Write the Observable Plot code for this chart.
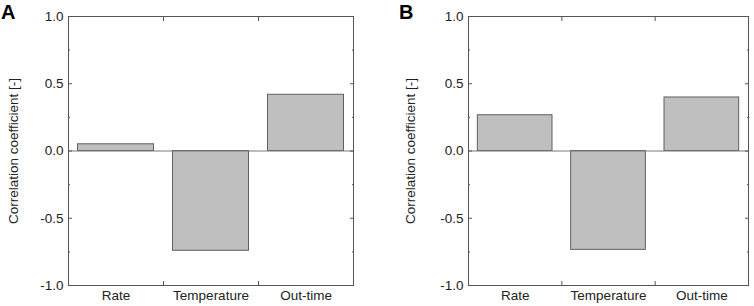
<!DOCTYPE html>
<html>
<head>
<meta charset="utf-8">
<script src="https://cdn.jsdelivr.net/npm/d3@7"></script>
<script src="https://cdn.jsdelivr.net/npm/@observablehq/plot@0.6"></script>
<style>
  body { margin: 0; background: #fff; }
  #wrap { position: relative; width: 754px; height: 306px; font-family: "Liberation Sans", Arial, sans-serif; }
  .panel { position: absolute; top: 0; }
  .letter { position: absolute; font-weight: bold; font-size: 20px; color: #000; line-height: 1; }
</style>
</head>
<body>
<div id="wrap">
  <div class="panel" id="pA" style="left:0px"></div>
  <div class="panel" id="pB" style="left:377px"></div>
  <div class="letter" style="left:1px;top:2px">A</div>
  <div class="letter" style="left:399px;top:2px">B</div>
</div>
<script>
const categories = ["Rate", "Temperature", "Out-time"];
const valuesA = [0.05, -0.742, 0.418];
const valuesB = [0.266, -0.735, 0.398];
const yMajorTicks = [-1.0, -0.5, 0.0, 0.5, 1.0];
const yMinorTicks = [-0.75, -0.25, 0.25, 0.75];
const xBoundaryTicks = [0.5, 1.5];
const yLabel = "Correlation coefficient [-]";

function panel(values, marginLeft, marginRight, labelOffset) {
  const data = categories.map((c, i) => ({i, category: c, value: values[i]}));
  const frameColor = "#555";
  return Plot.plot({
    width: 377,
    height: 306,
    marginLeft,
    marginRight,
    marginTop: 16,
    marginBottom: 21,
    style: {fontFamily: "Liberation Sans, Arial, sans-serif", fontSize: "13.5px", color: "#222", background: "#fff"},
    x: {domain: [-0.5, 2.5]},
    y: {domain: [-1, 1]},
    marks: [
      Plot.rectY(data, {x1: d => d.i - 0.4, x2: d => d.i + 0.4, y1: 0, y2: "value", fill: "#bfbfbf", stroke: "#606060", strokeWidth: 1}),
      Plot.ruleY([0], {stroke: "#7a7a7a", strokeWidth: 1.2}),
      Plot.frame({stroke: frameColor, strokeWidth: 1}),
      Plot.axisY({anchor: "left", ticks: yMajorTicks, tickSize: 0, tickPadding: 5, tickFormat: d => d.toFixed(1), fill: "#222", label: yLabel, labelAnchor: "center", labelArrow: "none", labelOffset}),
      Plot.axisY({anchor: "left", ticks: yMajorTicks, tickSize: -4, text: null, label: null, stroke: frameColor}),
      Plot.axisY({anchor: "right", ticks: yMajorTicks, tickSize: -4, text: null, label: null, stroke: frameColor}),
      Plot.axisY({anchor: "left", ticks: yMinorTicks, tickSize: -2, text: null, label: null, stroke: frameColor}),
      Plot.axisY({anchor: "right", ticks: yMinorTicks, tickSize: -2, text: null, label: null, stroke: frameColor}),
      Plot.axisX({anchor: "bottom", ticks: [0, 1, 2], tickFormat: i => categories[i], tickSize: 0, tickPadding: 5, label: null, fill: "#222"}),
      Plot.axisX({anchor: "bottom", ticks: xBoundaryTicks, tickSize: -4, text: null, label: null, stroke: frameColor}),
      Plot.axisX({anchor: "top", ticks: xBoundaryTicks, tickSize: -4, text: null, label: null, stroke: frameColor})
    ]
  });
}

document.getElementById("pA").append(panel(valuesA, 68, 24, 60));
document.getElementById("pB").append(panel(valuesB, 91, 6, 63));
</script>
</body>
</html>
